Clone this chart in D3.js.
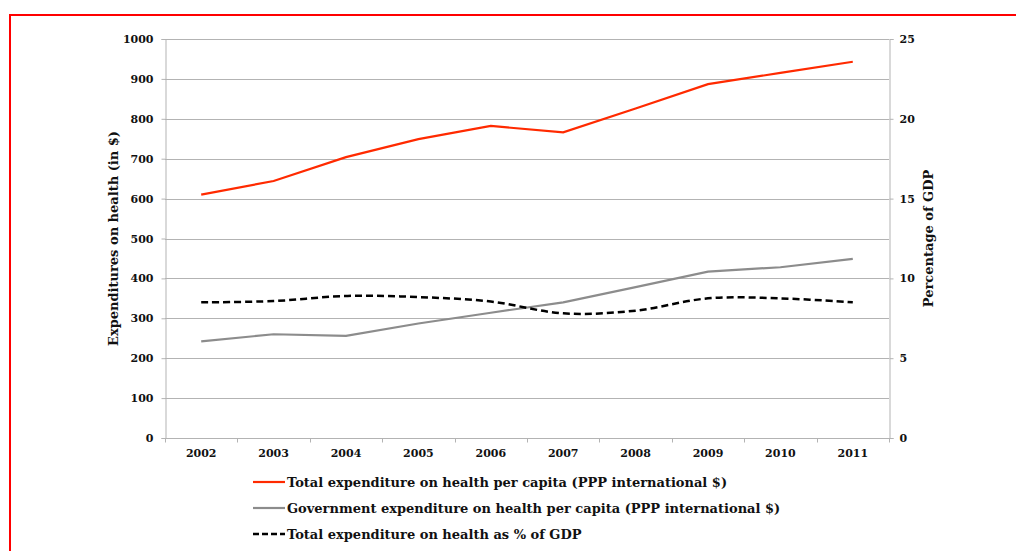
<!DOCTYPE html>
<html>
<head>
<meta charset="utf-8">
<script src="https://cdn.jsdelivr.net/npm/d3@7"></script>
<style>
  html, body { margin: 0; padding: 0; background: #fff; }
  svg { display: block; }
  text { font-family: "DejaVu Serif", "Liberation Serif", serif; font-weight: bold; fill: #111; }
</style>
</head>
<body>
<svg id="chart" width="1016" height="551"></svg>
<script>
// Health expenditure, 2002–2011
const years = ["2002", "2003", "2004", "2005", "2006", "2007", "2008", "2009", "2010", "2011"];
const totalPerCapita = [610, 644, 704, 749, 782, 766, 826, 887, 915, 943];
const govPerCapita = [242, 260, 256, 287, 314, 340, 378, 417, 428, 449];
const totalPctGDP = [8.50, 8.58, 8.90, 8.83, 8.55, 7.81, 7.98, 8.75, 8.75, 8.50];

const leftTicks = [0, 100, 200, 300, 400, 500, 600, 700, 800, 900, 1000];
const rightTicks = [0, 5, 10, 15, 20, 25];

const legendLabels = [
  "Total expenditure on health per capita (PPP international $)",
  "Government expenditure on health per capita (PPP international $)",
  "Total expenditure on health as % of GDP"
];

const svg = d3.select("#chart");

// frame
svg.append("rect")
  .attr("x", 10).attr("y", 15)
  .attr("width", 1020).attr("height", 560)
  .attr("fill", "none").attr("stroke", "#ff0000").attr("stroke-width", 2);

const m = { left: 165, right: 889, top: 39, bottom: 438 };

const x = d3.scaleBand().domain(years).range([m.left, m.right]);
const yL = d3.scaleLinear().domain([0, 1000]).range([m.bottom, m.top]);
const yR = d3.scaleLinear().domain([0, 25]).range([m.bottom, m.top]);

const gridColor = "#b3b3b3";

// horizontal gridlines
svg.append("g")
  .selectAll("line")
  .data(leftTicks)
  .join("line")
  .attr("x1", m.left).attr("x2", m.right)
  .attr("y1", d => Math.round(yL(d)) + 0.5).attr("y2", d => Math.round(yL(d)) + 0.5)
  .attr("stroke", gridColor).attr("stroke-width", 1);

// left axis
const gL = svg.append("g")
  .attr("transform", `translate(${m.left + 0.5},0)`)
  .call(d3.axisLeft(yL).tickValues(leftTicks).tickSize(4).tickPadding(8).tickFormat(d3.format("d")));
gL.selectAll(".domain, line").attr("stroke", gridColor);
gL.selectAll("text").attr("font-size", 11).attr("font-family", null).attr("fill", "#111");

// right axis
const gR = svg.append("g")
  .attr("transform", `translate(${m.right + 0.5},0)`)
  .call(d3.axisRight(yR).tickValues(rightTicks).tickSize(4).tickPadding(6).tickFormat(d3.format("d")));
gR.selectAll(".domain, line").attr("stroke", gridColor);
gR.selectAll("text").attr("font-size", 11).attr("font-family", null).attr("fill", "#111");

// bottom axis: ticks between categories
const gB = svg.append("g")
  .attr("transform", `translate(0,${m.bottom + 0.5})`);
gB.append("line")
  .attr("x1", m.left).attr("x2", m.right + 4)
  .attr("stroke", gridColor);
gB.selectAll("line.tick")
  .data(years.concat(["end"]))
  .join("line")
  .attr("class", "tick")
  .attr("x1", (d, i) => Math.round(m.left + i * x.step()) + 0.5)
  .attr("x2", (d, i) => Math.round(m.left + i * x.step()) + 0.5)
  .attr("y1", 0).attr("y2", 4)
  .attr("stroke", gridColor);
gB.selectAll("text")
  .data(years)
  .join("text")
  .attr("x", d => x(d) + x.bandwidth() / 2)
  .attr("y", 18)
  .attr("text-anchor", "middle")
  .attr("font-size", 11)
  .text(d => d);

// axis titles
svg.append("text")
  .attr("transform", `translate(118,${(m.top + m.bottom) / 2}) rotate(-90)`)
  .attr("text-anchor", "middle")
  .attr("font-size", 13)
  .text("Expenditures on health (in $)");
svg.append("text")
  .attr("transform", `translate(933,${(m.top + m.bottom) / 2}) rotate(-90)`)
  .attr("text-anchor", "middle")
  .attr("font-size", 13)
  .text("Percentage of GDP");

const cx = d => x(d) + x.bandwidth() / 2;

// series
const lineL = d3.line().x((d, i) => cx(years[i])).y(d => yL(d));
const lineR = d3.line().x((d, i) => cx(years[i])).y(d => yR(d)).curve(d3.curveCatmullRom.alpha(0.5));

svg.append("path").datum(govPerCapita)
  .attr("d", lineL).attr("fill", "none")
  .attr("stroke", "#8c8c8c").attr("stroke-width", 2.2);

svg.append("path").datum(totalPctGDP)
  .attr("d", lineR).attr("fill", "none")
  .attr("stroke", "#000").attr("stroke-width", 2.5)
  .attr("stroke-dasharray", "7,4");

svg.append("path").datum(totalPerCapita)
  .attr("d", lineL).attr("fill", "none")
  .attr("stroke", "#ff2a00").attr("stroke-width", 2.2);

// legend
const legendStyles = [
  { color: "#ff2a00", dash: null, width: 2.2 },
  { color: "#8c8c8c", dash: null, width: 2.2 },
  { color: "#000", dash: "6,3", width: 2.5 }
];
const lg = svg.append("g");
legendLabels.forEach((label, i) => {
  const yy = 482 + i * 26;
  lg.append("line")
    .attr("x1", 253).attr("x2", 285)
    .attr("y1", yy).attr("y2", yy)
    .attr("stroke", legendStyles[i].color)
    .attr("stroke-width", legendStyles[i].width)
    .attr("stroke-dasharray", legendStyles[i].dash);
  lg.append("text")
    .attr("x", 287).attr("y", yy + 4.5)
    .attr("font-size", 13)
    .text(label);
});
</script>
</body>
</html>
